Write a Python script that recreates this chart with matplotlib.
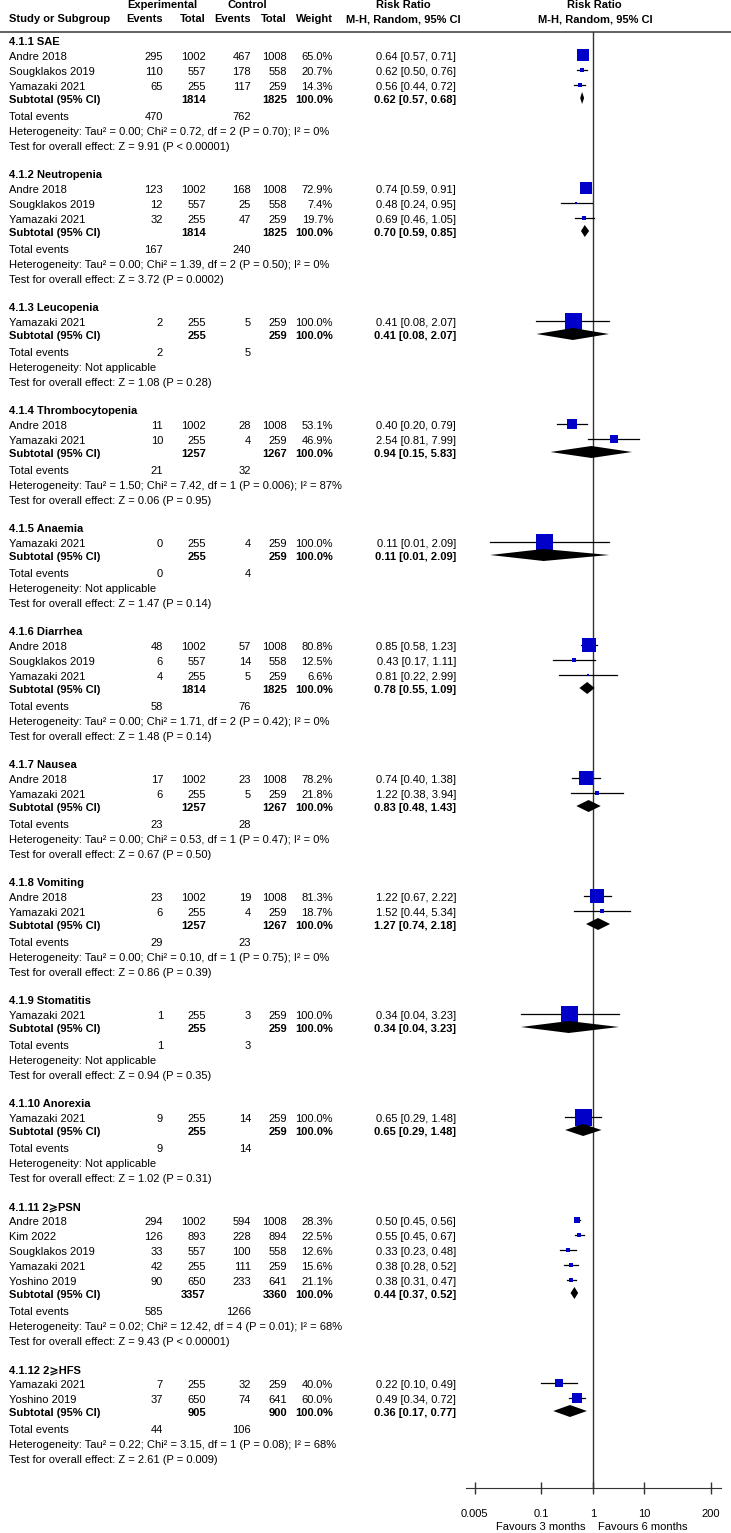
import matplotlib.pyplot as plt
from matplotlib.patches import Polygon

plt.rcParams['font.family'] = ['Liberation Sans', 'DejaVu Sans']
plt.rcParams['font.size'] = 8

# Subgroups
section_titles = ['4.1.1 SAE', '4.1.2 Neutropenia', '4.1.3 Leucopenia', '4.1.4 Thrombocytopenia',
                  '4.1.5 Anaemia', '4.1.6 Diarrhea', '4.1.7 Nausea', '4.1.8 Vomiting',
                  '4.1.9 Stomatitis', '4.1.10 Anorexia', '4.1.11 2⩾PSN', '4.1.12 2⩾HFS']

# Studies (subgroup index of each study row)
study_section = [0, 0, 0, 1, 1, 1, 2, 3, 3, 4, 5, 5, 5, 6, 6, 7, 7, 8, 9,
                 10, 10, 10, 10, 10, 11, 11]
study_names = ['Andre 2018', 'Sougklakos 2019', 'Yamazaki 2021',
               'Andre 2018', 'Sougklakos 2019', 'Yamazaki 2021',
               'Yamazaki 2021',
               'Andre 2018', 'Yamazaki 2021',
               'Yamazaki 2021',
               'Andre 2018', 'Sougklakos 2019', 'Yamazaki 2021',
               'Andre 2018', 'Yamazaki 2021',
               'Andre 2018', 'Yamazaki 2021',
               'Yamazaki 2021',
               'Yamazaki 2021',
               'Andre 2018', 'Kim 2022', 'Sougklakos 2019', 'Yamazaki 2021', 'Yoshino 2019',
               'Yamazaki 2021', 'Yoshino 2019']
exp_events = [295, 110, 65, 123, 12, 32, 2, 11, 10, 0, 48, 6, 4, 17, 6, 23, 6, 1, 9,
              294, 126, 33, 42, 90, 7, 37]
exp_totals = [1002, 557, 255, 1002, 557, 255, 255, 1002, 255, 255, 1002, 557, 255, 1002, 255,
              1002, 255, 255, 255, 1002, 893, 557, 255, 650, 255, 650]
ctl_events = [467, 178, 117, 168, 25, 47, 5, 28, 4, 4, 57, 14, 5, 23, 5, 19, 4, 3, 14,
              594, 228, 100, 111, 233, 32, 74]
ctl_totals = [1008, 558, 259, 1008, 558, 259, 259, 1008, 259, 259, 1008, 558, 259, 1008, 259,
              1008, 259, 259, 259, 1008, 894, 558, 259, 641, 259, 641]
weights = [65.0, 20.7, 14.3, 72.9, 7.4, 19.7, 100.0, 53.1, 46.9, 100.0, 80.8, 12.5, 6.6,
           78.2, 21.8, 81.3, 18.7, 100.0, 100.0, 28.3, 22.5, 12.6, 15.6, 21.1, 40.0, 60.0]
rr = [0.64, 0.62, 0.56, 0.74, 0.48, 0.69, 0.41, 0.40, 2.54, 0.11, 0.85, 0.43, 0.81,
      0.74, 1.22, 1.22, 1.52, 0.34, 0.65, 0.50, 0.55, 0.33, 0.38, 0.38, 0.22, 0.49]
rr_lo = [0.57, 0.50, 0.44, 0.59, 0.24, 0.46, 0.08, 0.20, 0.81, 0.01, 0.58, 0.17, 0.22,
         0.40, 0.38, 0.67, 0.44, 0.04, 0.29, 0.45, 0.45, 0.23, 0.28, 0.31, 0.10, 0.34]
rr_hi = [0.71, 0.76, 0.72, 0.91, 0.95, 1.05, 2.07, 0.79, 7.99, 2.09, 1.23, 1.11, 2.99,
         1.38, 3.94, 2.22, 5.34, 3.23, 1.48, 0.56, 0.67, 0.48, 0.52, 0.47, 0.49, 0.72]

# Subtotals
sub_exp_total = [1814, 1814, 255, 1257, 255, 1814, 1257, 1257, 255, 255, 3357, 905]
sub_ctl_total = [1825, 1825, 259, 1267, 259, 1825, 1267, 1267, 259, 259, 3360, 900]
sub_rr = [0.62, 0.70, 0.41, 0.94, 0.11, 0.78, 0.83, 1.27, 0.34, 0.65, 0.44, 0.36]
sub_lo = [0.57, 0.59, 0.08, 0.15, 0.01, 0.55, 0.48, 0.74, 0.04, 0.29, 0.37, 0.17]
sub_hi = [0.68, 0.85, 2.07, 5.83, 2.09, 1.09, 1.43, 2.18, 3.23, 1.48, 0.52, 0.77]
tot_exp_events = [470, 167, 2, 21, 0, 58, 23, 29, 1, 9, 585, 44]
tot_ctl_events = [762, 240, 5, 32, 4, 76, 28, 23, 3, 14, 1266, 106]
heterogeneity = [
    'Tau² = 0.00; Chi² = 0.72, df = 2 (P = 0.70); I² = 0%',
    'Tau² = 0.00; Chi² = 1.39, df = 2 (P = 0.50); I² = 0%',
    'Not applicable',
    'Tau² = 1.50; Chi² = 7.42, df = 1 (P = 0.006); I² = 87%',
    'Not applicable',
    'Tau² = 0.00; Chi² = 1.71, df = 2 (P = 0.42); I² = 0%',
    'Tau² = 0.00; Chi² = 0.53, df = 1 (P = 0.47); I² = 0%',
    'Tau² = 0.00; Chi² = 0.10, df = 1 (P = 0.75); I² = 0%',
    'Not applicable',
    'Not applicable',
    'Tau² = 0.02; Chi² = 12.42, df = 4 (P = 0.01); I² = 68%',
    'Tau² = 0.22; Chi² = 3.15, df = 1 (P = 0.08); I² = 68%',
]
overall_effect = ['Z = 9.91 (P < 0.00001)', 'Z = 3.72 (P = 0.0002)', 'Z = 1.08 (P = 0.28)',
                  'Z = 0.06 (P = 0.95)', 'Z = 1.47 (P = 0.14)', 'Z = 1.48 (P = 0.14)',
                  'Z = 0.67 (P = 0.50)', 'Z = 0.86 (P = 0.39)', 'Z = 0.94 (P = 0.35)',
                  'Z = 1.02 (P = 0.31)', 'Z = 9.43 (P < 0.00001)', 'Z = 2.61 (P = 0.009)']

axis_ticks = [0.005, 0.1, 1, 10, 200]
axis_labels = ['0.005', '0.1', '1', '10', '200']

# Layout (pixel units)
W, H = 731, 1533
fig = plt.figure(figsize=(W / 100, H / 100), dpi=100)
tax = fig.add_axes([0, 0, 1, 1])
tax.set_xlim(0, W)
tax.set_ylim(H, 0)
tax.axis('off')

AX_L, AX_R, AX_TOP, AX_BOT = 466, 721, 32, 1488
fax = fig.add_axes([AX_L / W, 1 - AX_BOT / H, (AX_R - AX_L) / W, (AX_BOT - AX_TOP) / H])
fax.patch.set_alpha(0)
fax.set_xscale('log')
fax.set_xlim(10 ** -2.47, 10 ** 2.5)
fax.set_ylim(AX_BOT, AX_TOP)
for s in ['top', 'left', 'right']:
    fax.spines[s].set_visible(False)
fax.spines['bottom'].set_color('#333333')
fax.set_xticks(axis_ticks)
fax.set_xticklabels(axis_labels)
fax.minorticks_off()
fax.set_yticks([])
fax.tick_params(axis='x', direction='inout', length=8, width=1, color='#333333', pad=11,
                labelsize=8)
fax.axvline(1, color='#333333', lw=1)

# column positions
X_NAME, X_EE, X_ET, X_CE, X_CT, X_W, X_RR = 9, 163, 206, 251, 287, 333, 456

# headers
tax.text(162, 5, 'Experimental', ha='center', va='center', fontweight='bold')
tax.text(247, 5, 'Control', ha='center', va='center', fontweight='bold')
tax.text(403, 5, 'Risk Ratio', ha='center', va='center', fontweight='bold')
tax.text(594, 5, 'Risk Ratio', ha='center', va='center', fontweight='bold')
tax.text(X_NAME, 19, 'Study or Subgroup', ha='left', va='center', fontweight='bold')
for x, lab in [(X_EE, 'Events'), (X_ET, 'Total'), (X_CE, 'Events'), (X_CT, 'Total'), (X_W, 'Weight')]:
    tax.text(x, 19, lab, ha='right', va='center', fontweight='bold')
tax.text(403, 19, 'M-H, Random, 95% CI', ha='center', va='center', fontweight='bold')
tax.text(595, 19, 'M-H, Random, 95% CI', ha='center', va='center', fontweight='bold')
tax.plot([0, W], [32, 32], color='#555555', lw=1.3)

BLUE = '#0000C8'
step = 15
y = 42
for s, title in enumerate(section_titles):
    tax.text(X_NAME, y, title, ha='left', va='center', fontweight='bold')
    y += step
    for i, sec in enumerate(study_section):
        if sec != s:
            continue
        tax.text(X_NAME, y, study_names[i], ha='left', va='center')
        tax.text(X_EE, y, str(exp_events[i]), ha='right', va='center')
        tax.text(X_ET, y, str(exp_totals[i]), ha='right', va='center')
        tax.text(X_CE, y, str(ctl_events[i]), ha='right', va='center')
        tax.text(X_CT, y, str(ctl_totals[i]), ha='right', va='center')
        tax.text(X_W, y, f'{weights[i]:.1f}%', ha='right', va='center')
        tax.text(X_RR, y, f'{rr[i]:.2f} [{rr_lo[i]:.2f}, {rr_hi[i]:.2f}]', ha='right', va='center')
        ym = y - 2
        fax.plot([rr_lo[i], rr_hi[i]], [ym, ym], color='black', lw=0.9, zorder=2)
        side = 1.5 + 15.5 * weights[i] / 100
        fax.plot(rr[i], ym, marker='s', ms=side * 0.72, mew=0, color=BLUE, zorder=3)
        y += step
    ys = y - 2
    tax.text(X_NAME, ys, 'Subtotal (95% CI)', ha='left', va='center', fontweight='bold')
    tax.text(X_ET, ys, str(sub_exp_total[s]), ha='right', va='center', fontweight='bold')
    tax.text(X_CT, ys, str(sub_ctl_total[s]), ha='right', va='center', fontweight='bold')
    tax.text(X_W, ys, '100.0%', ha='right', va='center', fontweight='bold')
    tax.text(X_RR, ys, f'{sub_rr[s]:.2f} [{sub_lo[s]:.2f}, {sub_hi[s]:.2f}]',
             ha='right', va='center', fontweight='bold')
    yd = ys - 2
    fax.add_patch(Polygon([(sub_lo[s], yd), (sub_rr[s], yd - 6), (sub_hi[s], yd), (sub_rr[s], yd + 6)],
                          closed=True, facecolor='black', edgecolor='none', zorder=3))
    y += step
    tax.text(X_NAME, y, 'Total events', ha='left', va='center')
    tax.text(X_EE, y, str(tot_exp_events[s]), ha='right', va='center')
    tax.text(X_CE, y, str(tot_ctl_events[s]), ha='right', va='center')
    y += step
    tax.text(X_NAME, y, 'Heterogeneity: ' + heterogeneity[s], ha='left', va='center')
    y += step
    tax.text(X_NAME, y, 'Test for overall effect: ' + overall_effect[s], ha='left', va='center')
    y += step + 13

tax.text(586, 1527.5, 'Favours 3 months', ha='right', va='center')
tax.text(598, 1527.5, 'Favours 6 months', ha='left', va='center')

fig.savefig('out.png', dpi=100)
